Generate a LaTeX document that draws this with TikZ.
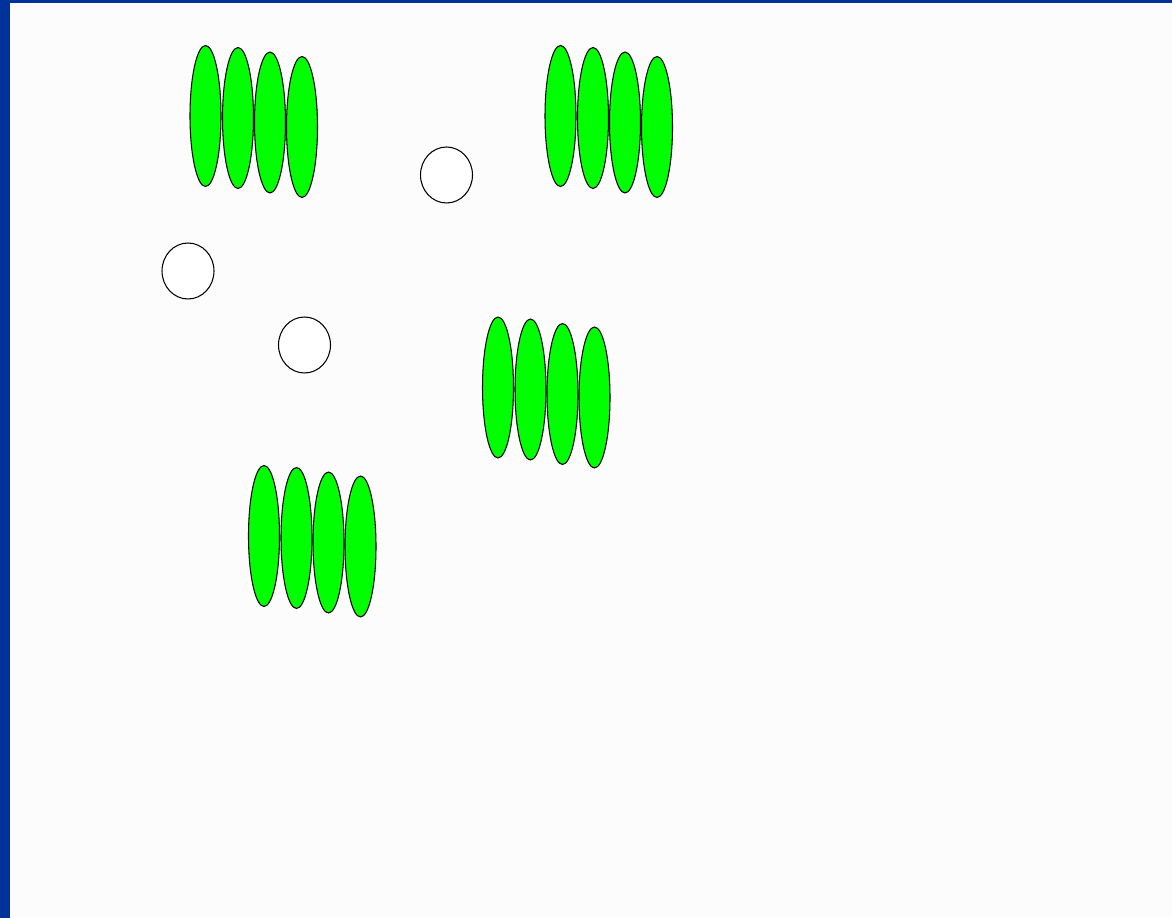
\documentclass[tikz,border=0pt]{standalone}
\usepackage{tikz}
\usetikzlibrary{
  shapes.geometric
}
\usepackage{xcolor}
\definecolor{frame}{RGB}{0,51,153}
\definecolor{leafgreen}{RGB}{0,255,0}

\begin{document}
\begin{tikzpicture}[
  x=0.02cm, y=-0.02cm,
  leaf/.style={ellipse, draw=black, fill=leafgreen, line width=0.6pt,
               minimum width=0.62cm, minimum height=2.82cm, inner sep=0pt},
  hole/.style={ellipse, draw=black, fill=white, line width=0.6pt,
               minimum width=1.04cm, minimum height=1.12cm, inner sep=0pt}
]

% page and frame
\useasboundingbox (0,0) rectangle (1172,918);
\fill[white!99!black] (0,0) rectangle (1172,918);
\fill[frame] (0,0) rectangle (10,918);
\fill[frame] (0,0) rectangle (1172,3);

% top left stack
\node[leaf] (tl1) at (205.5,116) {};
\node[leaf] (tl2) at (238,118) {};
\node[leaf] (tl3) at (270,122.5) {};
\node[leaf] (tl4) at (302,127) {};

% top right stack
\node[leaf] (tr1) at (560.5,116) {};
\node[leaf] (tr2) at (593,118) {};
\node[leaf] (tr3) at (625,122.5) {};
\node[leaf] (tr4) at (657,127) {};

% middle stack
\node[leaf] (md1) at (498,387.5) {};
\node[leaf] (md2) at (530.5,389.5) {};
\node[leaf] (md3) at (562.5,394) {};
\node[leaf] (md4) at (594.5,397.5) {};

% bottom stack
\node[leaf] (bt1) at (264,536) {};
\node[leaf] (bt2) at (296.5,538) {};
\node[leaf] (bt3) at (328.5,542.5) {};
\node[leaf] (bt4) at (360.5,546.5) {};

% empty circles
\node[hole] (h1) at (446.5,175) {};
\node[hole] (h2) at (188,271) {};
\node[hole] (h3) at (304.5,345) {};

\end{tikzpicture}
\end{document}
